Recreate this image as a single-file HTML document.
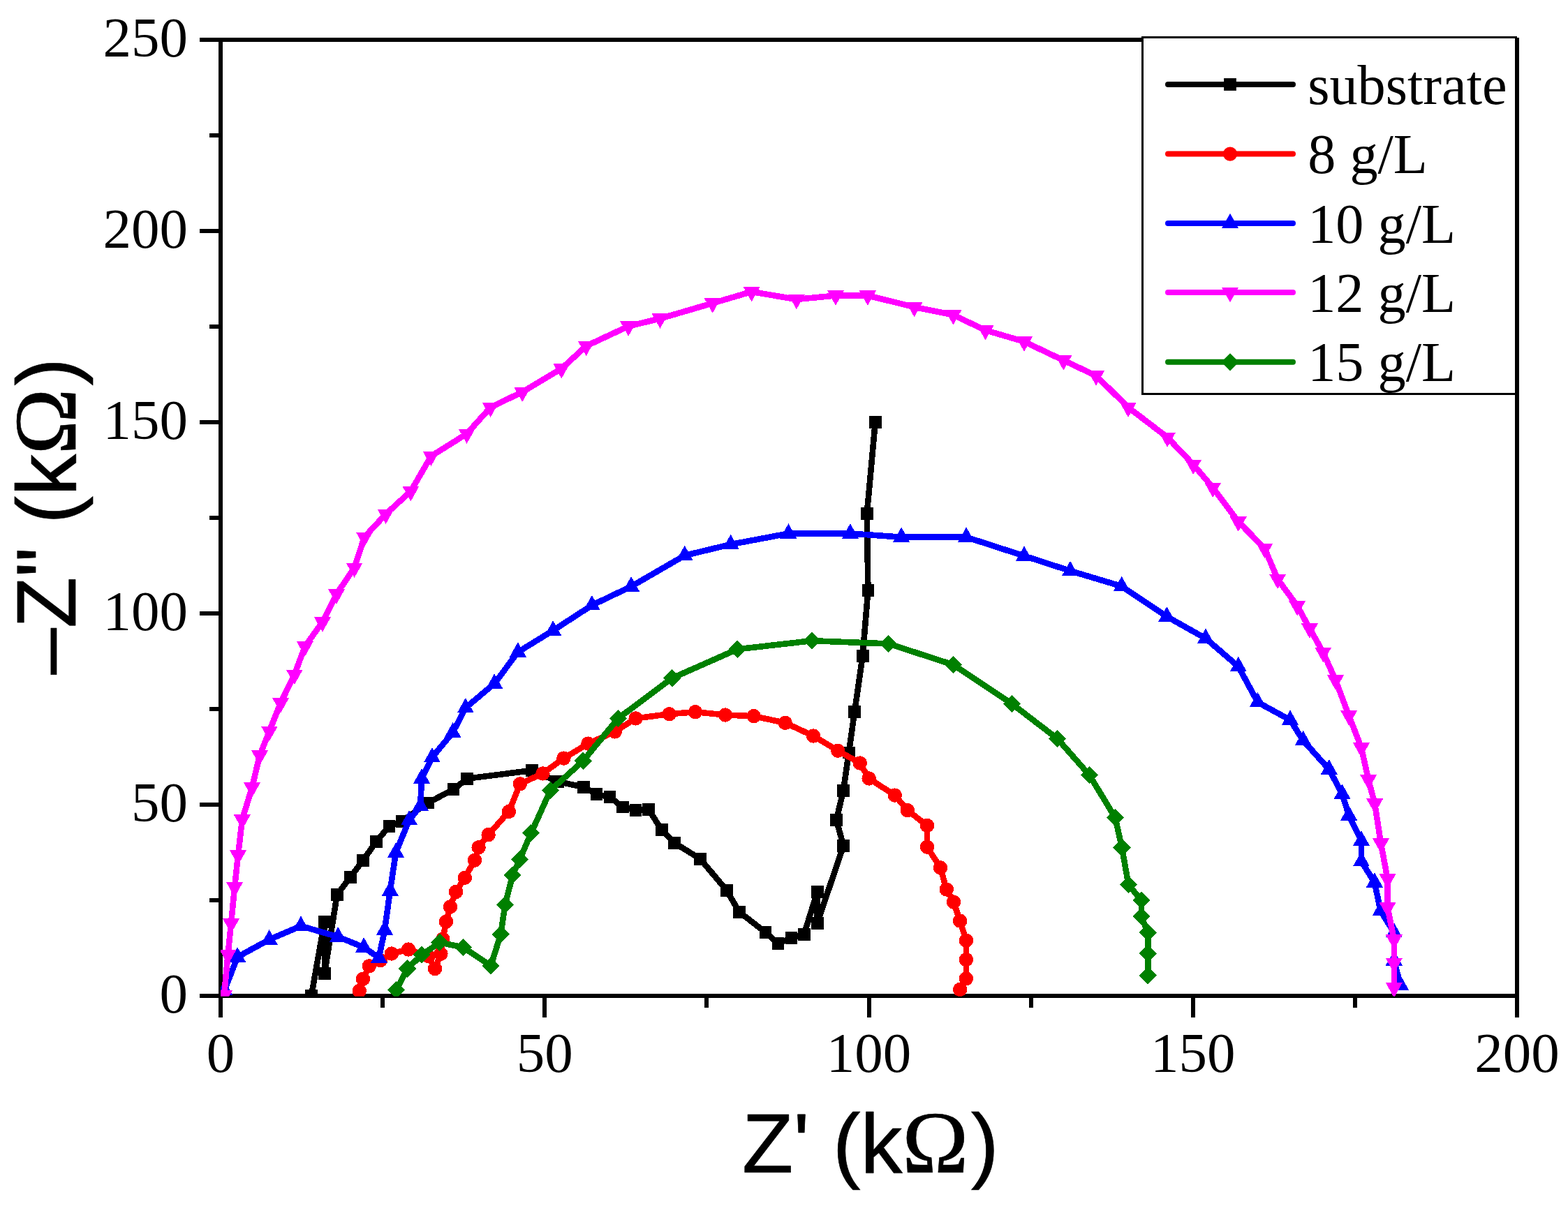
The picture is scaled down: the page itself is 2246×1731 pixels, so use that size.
<!DOCTYPE html>
<html lang="en">
<head>
<meta charset="utf-8">
<title>Nyquist plot</title>
<style>
html,body{margin:0;padding:0;background:#fff;}
body{width:2246px;height:1731px;overflow:hidden;}
svg{display:block;}
.tk{font-family:"Liberation Serif","Times New Roman",serif;font-size:81px;fill:#000;}
.ax{font-family:"Liberation Sans",Arial,sans-serif;font-size:120px;fill:#000;stroke:#000;stroke-width:0.7px;stroke-linejoin:round;}
.om{font-family:"Liberation Serif","Times New Roman",serif;font-size:128px;}
</style>
</head>
<body>

<svg width="2246" height="1731" viewBox="0 0 2246 1731">
<rect width="2246" height="1731" fill="#ffffff"/>
<defs><clipPath id="plotclip"><rect x="316.1" y="57.1" width="1856.9" height="1370.6"/></clipPath></defs>
<g stroke="#000" stroke-width="6" fill="none" shape-rendering="crispEdges">
<rect x="316.1" y="57.1" width="1856.9" height="1369.8"/>
<line x1="316.1" y1="1426.9" x2="316.1" y2="1457.9"/>
<line x1="548.2" y1="1426.9" x2="548.2" y2="1443.9"/>
<line x1="780.3" y1="1426.9" x2="780.3" y2="1457.9"/>
<line x1="1012.4" y1="1426.9" x2="1012.4" y2="1443.9"/>
<line x1="1244.6" y1="1426.9" x2="1244.6" y2="1457.9"/>
<line x1="1476.7" y1="1426.9" x2="1476.7" y2="1443.9"/>
<line x1="1708.8" y1="1426.9" x2="1708.8" y2="1457.9"/>
<line x1="1940.9" y1="1426.9" x2="1940.9" y2="1443.9"/>
<line x1="2173" y1="1426.9" x2="2173" y2="1457.9"/>
<line x1="316.1" y1="1426.9" x2="285.6" y2="1426.9"/>
<line x1="316.1" y1="1289.9" x2="299.6" y2="1289.9"/>
<line x1="316.1" y1="1152.9" x2="285.6" y2="1152.9"/>
<line x1="316.1" y1="1016" x2="299.6" y2="1016"/>
<line x1="316.1" y1="879" x2="285.6" y2="879"/>
<line x1="316.1" y1="742" x2="299.6" y2="742"/>
<line x1="316.1" y1="605" x2="285.6" y2="605"/>
<line x1="316.1" y1="468" x2="299.6" y2="468"/>
<line x1="316.1" y1="331.1" x2="285.6" y2="331.1"/>
<line x1="316.1" y1="194.1" x2="299.6" y2="194.1"/>
<line x1="316.1" y1="57.1" x2="285.6" y2="57.1"/>
</g>
<g class="tk" text-anchor="middle">
<text x="316.1" y="1536">0</text>
<text x="780.3" y="1536">50</text>
<text x="1244.6" y="1536">100</text>
<text x="1708.8" y="1536">150</text>
<text x="2173" y="1536">200</text>
</g>
<g class="tk" text-anchor="end">
<text x="269" y="1450.6">0</text>
<text x="269" y="1176.6">50</text>
<text x="269" y="902.7">100</text>
<text x="269" y="628.7">150</text>
<text x="269" y="354.8">200</text>
<text x="269" y="80.8">250</text>
</g>
<text class="ax" x="1063.1" y="1679.9">Z' (k<tspan class="om" dx="-0.3">Ω</tspan><tspan dx="3.2">)</tspan></text>
<text class="ax" transform="translate(108.1,0) rotate(-90)" x="-966.8" y="0">–Z" (k<tspan class="om" dx="-0.6">Ω</tspan><tspan dx="3.7">)</tspan></text>
<g clip-path="url(#plotclip)" shape-rendering="crispEdges">
<polyline fill="none" stroke="#000000" stroke-width="8.6" stroke-linejoin="round" points="446,1427 464.8,1320.8 464.9,1395 482.8,1282 501.8,1256.9 520,1232.9 539,1205.8 557.5,1184 575.8,1176.7 612.8,1150.5 649.5,1131.2 669.1,1115.7 762,1104 799.1,1120.1 836.2,1127.8 854.5,1138.1 873.4,1142.1 892,1156.5 910.5,1160.9 929,1159.9 947.6,1189 966.3,1208 1003,1230.7 1040.6,1275.6 1058.9,1306.7 1096.4,1336 1114.4,1352.2 1133.4,1343.9 1151.8,1338.8 1170.6,1278 1170.6,1322.7 1208.2,1212 1198,1174.8 1208.1,1132.8 1215.8,1078.4 1224.1,1019.9 1235.6,940.2 1243.4,846 1241.8,735.6 1253.8,604.8"/>
<rect x="437.1" y="1418.1" width="17.8" height="17.8" fill="#000000"/><rect x="455.9" y="1311.9" width="17.8" height="17.8" fill="#000000"/><rect x="456" y="1386.1" width="17.8" height="17.8" fill="#000000"/><rect x="473.9" y="1273.1" width="17.8" height="17.8" fill="#000000"/><rect x="492.9" y="1248" width="17.8" height="17.8" fill="#000000"/><rect x="511.1" y="1224" width="17.8" height="17.8" fill="#000000"/><rect x="530.1" y="1196.9" width="17.8" height="17.8" fill="#000000"/><rect x="548.6" y="1175.1" width="17.8" height="17.8" fill="#000000"/><rect x="566.9" y="1167.8" width="17.8" height="17.8" fill="#000000"/><rect x="603.9" y="1141.6" width="17.8" height="17.8" fill="#000000"/><rect x="640.6" y="1122.3" width="17.8" height="17.8" fill="#000000"/><rect x="660.2" y="1106.8" width="17.8" height="17.8" fill="#000000"/><rect x="753.1" y="1095.1" width="17.8" height="17.8" fill="#000000"/><rect x="790.2" y="1111.2" width="17.8" height="17.8" fill="#000000"/><rect x="827.3" y="1118.9" width="17.8" height="17.8" fill="#000000"/><rect x="845.6" y="1129.2" width="17.8" height="17.8" fill="#000000"/><rect x="864.5" y="1133.2" width="17.8" height="17.8" fill="#000000"/><rect x="883.1" y="1147.6" width="17.8" height="17.8" fill="#000000"/><rect x="901.6" y="1152" width="17.8" height="17.8" fill="#000000"/><rect x="920.1" y="1151" width="17.8" height="17.8" fill="#000000"/><rect x="938.7" y="1180.1" width="17.8" height="17.8" fill="#000000"/><rect x="957.4" y="1199.1" width="17.8" height="17.8" fill="#000000"/><rect x="994.1" y="1221.8" width="17.8" height="17.8" fill="#000000"/><rect x="1031.7" y="1266.7" width="17.8" height="17.8" fill="#000000"/><rect x="1050" y="1297.8" width="17.8" height="17.8" fill="#000000"/><rect x="1087.5" y="1327.1" width="17.8" height="17.8" fill="#000000"/><rect x="1105.5" y="1343.3" width="17.8" height="17.8" fill="#000000"/><rect x="1124.5" y="1335" width="17.8" height="17.8" fill="#000000"/><rect x="1142.9" y="1329.9" width="17.8" height="17.8" fill="#000000"/><rect x="1161.7" y="1269.1" width="17.8" height="17.8" fill="#000000"/><rect x="1161.7" y="1313.8" width="17.8" height="17.8" fill="#000000"/><rect x="1199.3" y="1203.1" width="17.8" height="17.8" fill="#000000"/><rect x="1189.1" y="1165.9" width="17.8" height="17.8" fill="#000000"/><rect x="1199.2" y="1123.9" width="17.8" height="17.8" fill="#000000"/><rect x="1206.9" y="1069.5" width="17.8" height="17.8" fill="#000000"/><rect x="1215.2" y="1011" width="17.8" height="17.8" fill="#000000"/><rect x="1226.7" y="931.3" width="17.8" height="17.8" fill="#000000"/><rect x="1234.5" y="837.1" width="17.8" height="17.8" fill="#000000"/><rect x="1232.9" y="726.7" width="17.8" height="17.8" fill="#000000"/><rect x="1244.9" y="595.9" width="17.8" height="17.8" fill="#000000"/>
<polyline fill="none" stroke="#ff0000" stroke-width="8.6" stroke-linejoin="round" points="514.8,1420 520,1402.8 528.8,1384.3 544.9,1376.1 560.9,1366.5 585,1360.5 613.6,1370.1 623,1388 631.4,1366.8 634.3,1345.6 639,1320.7 645,1299.3 653,1278 665.9,1257.7 680,1232.6 685.6,1214.2 699.6,1196.1 728.9,1163 744.9,1123.3 777.4,1108.4 807.4,1086.6 842.4,1065.6 880.8,1048.4 910.6,1029.4 958.7,1023.2 996,1020.2 1038.9,1024.5 1079.7,1026.2 1124.7,1035.8 1165,1054.5 1200.2,1075.7 1231.8,1093.5 1244.7,1115.5 1281.8,1139.6 1300,1161.2 1328,1183 1328,1213.6 1347,1243.3 1355.8,1274.5 1366,1292.6 1375.1,1319.6 1383.9,1347.6 1383.9,1375.1 1383.9,1402.3 1375.1,1417.9"/>
<circle cx="514.8" cy="1420" r="10.2" fill="#ff0000"/><circle cx="520" cy="1402.8" r="10.2" fill="#ff0000"/><circle cx="528.8" cy="1384.3" r="10.2" fill="#ff0000"/><circle cx="544.9" cy="1376.1" r="10.2" fill="#ff0000"/><circle cx="560.9" cy="1366.5" r="10.2" fill="#ff0000"/><circle cx="585" cy="1360.5" r="10.2" fill="#ff0000"/><circle cx="613.6" cy="1370.1" r="10.2" fill="#ff0000"/><circle cx="623" cy="1388" r="10.2" fill="#ff0000"/><circle cx="631.4" cy="1366.8" r="10.2" fill="#ff0000"/><circle cx="634.3" cy="1345.6" r="10.2" fill="#ff0000"/><circle cx="639" cy="1320.7" r="10.2" fill="#ff0000"/><circle cx="645" cy="1299.3" r="10.2" fill="#ff0000"/><circle cx="653" cy="1278" r="10.2" fill="#ff0000"/><circle cx="665.9" cy="1257.7" r="10.2" fill="#ff0000"/><circle cx="680" cy="1232.6" r="10.2" fill="#ff0000"/><circle cx="685.6" cy="1214.2" r="10.2" fill="#ff0000"/><circle cx="699.6" cy="1196.1" r="10.2" fill="#ff0000"/><circle cx="728.9" cy="1163" r="10.2" fill="#ff0000"/><circle cx="744.9" cy="1123.3" r="10.2" fill="#ff0000"/><circle cx="777.4" cy="1108.4" r="10.2" fill="#ff0000"/><circle cx="807.4" cy="1086.6" r="10.2" fill="#ff0000"/><circle cx="842.4" cy="1065.6" r="10.2" fill="#ff0000"/><circle cx="880.8" cy="1048.4" r="10.2" fill="#ff0000"/><circle cx="910.6" cy="1029.4" r="10.2" fill="#ff0000"/><circle cx="958.7" cy="1023.2" r="10.2" fill="#ff0000"/><circle cx="996" cy="1020.2" r="10.2" fill="#ff0000"/><circle cx="1038.9" cy="1024.5" r="10.2" fill="#ff0000"/><circle cx="1079.7" cy="1026.2" r="10.2" fill="#ff0000"/><circle cx="1124.7" cy="1035.8" r="10.2" fill="#ff0000"/><circle cx="1165" cy="1054.5" r="10.2" fill="#ff0000"/><circle cx="1200.2" cy="1075.7" r="10.2" fill="#ff0000"/><circle cx="1231.8" cy="1093.5" r="10.2" fill="#ff0000"/><circle cx="1244.7" cy="1115.5" r="10.2" fill="#ff0000"/><circle cx="1281.8" cy="1139.6" r="10.2" fill="#ff0000"/><circle cx="1300" cy="1161.2" r="10.2" fill="#ff0000"/><circle cx="1328" cy="1183" r="10.2" fill="#ff0000"/><circle cx="1328" cy="1213.6" r="10.2" fill="#ff0000"/><circle cx="1347" cy="1243.3" r="10.2" fill="#ff0000"/><circle cx="1355.8" cy="1274.5" r="10.2" fill="#ff0000"/><circle cx="1366" cy="1292.6" r="10.2" fill="#ff0000"/><circle cx="1375.1" cy="1319.6" r="10.2" fill="#ff0000"/><circle cx="1383.9" cy="1347.6" r="10.2" fill="#ff0000"/><circle cx="1383.9" cy="1375.1" r="10.2" fill="#ff0000"/><circle cx="1383.9" cy="1402.3" r="10.2" fill="#ff0000"/><circle cx="1375.1" cy="1417.9" r="10.2" fill="#ff0000"/>
<polyline fill="none" stroke="#0000ff" stroke-width="8.6" stroke-linejoin="round" points="321.5,1419 340.1,1371.4 385.7,1346.4 431,1326.9 484.2,1342.4 521.2,1357.5 542.8,1372.5 551,1332.6 558.8,1276.5 567,1221.6 586.1,1175.2 602.2,1155.1 604,1115.5 619,1085.3 648.5,1049.6 666.9,1014.3 708.2,979.5 741.9,934.4 792.2,903.5 847.9,867.3 904.1,840.4 980.7,796 1046.7,780.1 1129.4,764.5 1217.9,764.5 1291.2,769.7 1384.1,769.7 1467,796.6 1533,818 1606.7,840.1 1671.3,883.5 1727,914.8 1773.8,955.1 1801.6,1006.3 1848,1031.6 1866.7,1061.2 1903.8,1102.5 1922.6,1137.8 1932.1,1168.4 1950,1204.7 1950,1234.3 1968.9,1264.4 1977.5,1305.2 1996.8,1336.3 1996.8,1376.4 2006,1411.5"/>
<polygon points="321.5,1404.7 309.5,1426.1 333.5,1426.1" fill="#0000ff"/><polygon points="340.1,1357.1 328.1,1378.5 352.1,1378.5" fill="#0000ff"/><polygon points="385.7,1332.1 373.7,1353.5 397.7,1353.5" fill="#0000ff"/><polygon points="431,1312.6 419,1334 443,1334" fill="#0000ff"/><polygon points="484.2,1328.1 472.2,1349.5 496.2,1349.5" fill="#0000ff"/><polygon points="521.2,1343.2 509.2,1364.6 533.2,1364.6" fill="#0000ff"/><polygon points="542.8,1358.2 530.8,1379.6 554.8,1379.6" fill="#0000ff"/><polygon points="551,1318.3 539,1339.7 563,1339.7" fill="#0000ff"/><polygon points="558.8,1262.2 546.8,1283.6 570.8,1283.6" fill="#0000ff"/><polygon points="567,1207.3 555,1228.7 579,1228.7" fill="#0000ff"/><polygon points="586.1,1160.9 574.1,1182.3 598.1,1182.3" fill="#0000ff"/><polygon points="602.2,1140.8 590.2,1162.2 614.2,1162.2" fill="#0000ff"/><polygon points="604,1101.2 592,1122.6 616,1122.6" fill="#0000ff"/><polygon points="619,1071 607,1092.4 631,1092.4" fill="#0000ff"/><polygon points="648.5,1035.3 636.5,1056.7 660.5,1056.7" fill="#0000ff"/><polygon points="666.9,1000 654.9,1021.4 678.9,1021.4" fill="#0000ff"/><polygon points="708.2,965.2 696.2,986.6 720.2,986.6" fill="#0000ff"/><polygon points="741.9,920.1 729.9,941.5 753.9,941.5" fill="#0000ff"/><polygon points="792.2,889.2 780.2,910.6 804.2,910.6" fill="#0000ff"/><polygon points="847.9,853 835.9,874.4 859.9,874.4" fill="#0000ff"/><polygon points="904.1,826.1 892.1,847.5 916.1,847.5" fill="#0000ff"/><polygon points="980.7,781.7 968.7,803.1 992.7,803.1" fill="#0000ff"/><polygon points="1046.7,765.8 1034.7,787.2 1058.7,787.2" fill="#0000ff"/><polygon points="1129.4,750.2 1117.4,771.6 1141.4,771.6" fill="#0000ff"/><polygon points="1217.9,750.2 1205.9,771.6 1229.9,771.6" fill="#0000ff"/><polygon points="1291.2,755.4 1279.2,776.8 1303.2,776.8" fill="#0000ff"/><polygon points="1384.1,755.4 1372.1,776.8 1396.1,776.8" fill="#0000ff"/><polygon points="1467,782.3 1455,803.7 1479,803.7" fill="#0000ff"/><polygon points="1533,803.7 1521,825.1 1545,825.1" fill="#0000ff"/><polygon points="1606.7,825.8 1594.7,847.2 1618.7,847.2" fill="#0000ff"/><polygon points="1671.3,869.2 1659.3,890.6 1683.3,890.6" fill="#0000ff"/><polygon points="1727,900.5 1715,921.9 1739,921.9" fill="#0000ff"/><polygon points="1773.8,940.8 1761.8,962.2 1785.8,962.2" fill="#0000ff"/><polygon points="1801.6,992 1789.6,1013.4 1813.6,1013.4" fill="#0000ff"/><polygon points="1848,1017.3 1836,1038.7 1860,1038.7" fill="#0000ff"/><polygon points="1866.7,1046.9 1854.7,1068.3 1878.7,1068.3" fill="#0000ff"/><polygon points="1903.8,1088.2 1891.8,1109.6 1915.8,1109.6" fill="#0000ff"/><polygon points="1922.6,1123.5 1910.6,1144.9 1934.6,1144.9" fill="#0000ff"/><polygon points="1932.1,1154.1 1920.1,1175.5 1944.1,1175.5" fill="#0000ff"/><polygon points="1950,1190.4 1938,1211.8 1962,1211.8" fill="#0000ff"/><polygon points="1950,1220 1938,1241.4 1962,1241.4" fill="#0000ff"/><polygon points="1968.9,1250.1 1956.9,1271.5 1980.9,1271.5" fill="#0000ff"/><polygon points="1977.5,1290.9 1965.5,1312.3 1989.5,1312.3" fill="#0000ff"/><polygon points="1996.8,1322 1984.8,1343.4 2008.8,1343.4" fill="#0000ff"/><polygon points="1996.8,1362.1 1984.8,1383.5 2008.8,1383.5" fill="#0000ff"/><polygon points="2006,1397.2 1994,1418.6 2018,1418.6" fill="#0000ff"/>
<polyline fill="none" stroke="#ff00ff" stroke-width="8.6" stroke-linejoin="round" points="321,1426.3 326.5,1368.2 331,1323.4 336.1,1271.2 341,1225.4 346.9,1174.5 361,1128.5 372,1082.4 385.9,1047.6 402,1007.3 421.8,966.6 436.8,926.3 461.9,891.4 482,851.3 507.6,813.6 521.9,769.7 552.6,736.7 588.4,704 617.5,653.7 668.6,621.6 702.6,583.7 748.2,561.7 804.3,528.2 839.7,495.8 900.2,467.5 945.5,456.5 1020.7,434.5 1076.6,418 1140.9,429 1197,423.5 1242.9,423.5 1309.6,440 1365.4,451.3 1411.5,473.2 1467,489.5 1523.4,516.4 1570.1,538.4 1616,583.7 1672.1,626.6 1709.2,665.6 1737.2,698.6 1773.7,747.5 1811.4,785.7 1830.1,829.9 1858.1,868.1 1875.9,900.5 1895.2,934.8 1913,974.5 1932.1,1025.3 1950,1071.5 1960.1,1117.3 1969.2,1151.5 1978,1208.4 1987.5,1259.4 1987.5,1300.2 1996.8,1346.5 1996.8,1380.2 1996.8,1415.3"/>
<polygon points="321,1440.6 309,1419.2 333,1419.2" fill="#ff00ff"/><polygon points="326.5,1382.5 314.5,1361.1 338.5,1361.1" fill="#ff00ff"/><polygon points="331,1337.7 319,1316.3 343,1316.3" fill="#ff00ff"/><polygon points="336.1,1285.5 324.1,1264.1 348.1,1264.1" fill="#ff00ff"/><polygon points="341,1239.7 329,1218.3 353,1218.3" fill="#ff00ff"/><polygon points="346.9,1188.8 334.9,1167.4 358.9,1167.4" fill="#ff00ff"/><polygon points="361,1142.8 349,1121.4 373,1121.4" fill="#ff00ff"/><polygon points="372,1096.7 360,1075.3 384,1075.3" fill="#ff00ff"/><polygon points="385.9,1061.9 373.9,1040.5 397.9,1040.5" fill="#ff00ff"/><polygon points="402,1021.6 390,1000.2 414,1000.2" fill="#ff00ff"/><polygon points="421.8,980.9 409.8,959.5 433.8,959.5" fill="#ff00ff"/><polygon points="436.8,940.6 424.8,919.2 448.8,919.2" fill="#ff00ff"/><polygon points="461.9,905.7 449.9,884.3 473.9,884.3" fill="#ff00ff"/><polygon points="482,865.6 470,844.2 494,844.2" fill="#ff00ff"/><polygon points="507.6,827.9 495.6,806.5 519.6,806.5" fill="#ff00ff"/><polygon points="521.9,784 509.9,762.6 533.9,762.6" fill="#ff00ff"/><polygon points="552.6,751 540.6,729.6 564.6,729.6" fill="#ff00ff"/><polygon points="588.4,718.3 576.4,696.9 600.4,696.9" fill="#ff00ff"/><polygon points="617.5,668 605.5,646.6 629.5,646.6" fill="#ff00ff"/><polygon points="668.6,635.9 656.6,614.5 680.6,614.5" fill="#ff00ff"/><polygon points="702.6,598 690.6,576.6 714.6,576.6" fill="#ff00ff"/><polygon points="748.2,576 736.2,554.6 760.2,554.6" fill="#ff00ff"/><polygon points="804.3,542.5 792.3,521.1 816.3,521.1" fill="#ff00ff"/><polygon points="839.7,510.1 827.7,488.7 851.7,488.7" fill="#ff00ff"/><polygon points="900.2,481.8 888.2,460.4 912.2,460.4" fill="#ff00ff"/><polygon points="945.5,470.8 933.5,449.4 957.5,449.4" fill="#ff00ff"/><polygon points="1020.7,448.8 1008.7,427.4 1032.7,427.4" fill="#ff00ff"/><polygon points="1076.6,432.3 1064.6,410.9 1088.6,410.9" fill="#ff00ff"/><polygon points="1140.9,443.3 1128.9,421.9 1152.9,421.9" fill="#ff00ff"/><polygon points="1197,437.8 1185,416.4 1209,416.4" fill="#ff00ff"/><polygon points="1242.9,437.8 1230.9,416.4 1254.9,416.4" fill="#ff00ff"/><polygon points="1309.6,454.3 1297.6,432.9 1321.6,432.9" fill="#ff00ff"/><polygon points="1365.4,465.6 1353.4,444.2 1377.4,444.2" fill="#ff00ff"/><polygon points="1411.5,487.5 1399.5,466.1 1423.5,466.1" fill="#ff00ff"/><polygon points="1467,503.8 1455,482.4 1479,482.4" fill="#ff00ff"/><polygon points="1523.4,530.7 1511.4,509.3 1535.4,509.3" fill="#ff00ff"/><polygon points="1570.1,552.7 1558.1,531.3 1582.1,531.3" fill="#ff00ff"/><polygon points="1616,598 1604,576.6 1628,576.6" fill="#ff00ff"/><polygon points="1672.1,640.9 1660.1,619.5 1684.1,619.5" fill="#ff00ff"/><polygon points="1709.2,679.9 1697.2,658.5 1721.2,658.5" fill="#ff00ff"/><polygon points="1737.2,712.9 1725.2,691.5 1749.2,691.5" fill="#ff00ff"/><polygon points="1773.7,761.8 1761.7,740.4 1785.7,740.4" fill="#ff00ff"/><polygon points="1811.4,800 1799.4,778.6 1823.4,778.6" fill="#ff00ff"/><polygon points="1830.1,844.2 1818.1,822.8 1842.1,822.8" fill="#ff00ff"/><polygon points="1858.1,882.4 1846.1,861 1870.1,861" fill="#ff00ff"/><polygon points="1875.9,914.8 1863.9,893.4 1887.9,893.4" fill="#ff00ff"/><polygon points="1895.2,949.1 1883.2,927.7 1907.2,927.7" fill="#ff00ff"/><polygon points="1913,988.8 1901,967.4 1925,967.4" fill="#ff00ff"/><polygon points="1932.1,1039.6 1920.1,1018.2 1944.1,1018.2" fill="#ff00ff"/><polygon points="1950,1085.8 1938,1064.4 1962,1064.4" fill="#ff00ff"/><polygon points="1960.1,1131.6 1948.1,1110.2 1972.1,1110.2" fill="#ff00ff"/><polygon points="1969.2,1165.8 1957.2,1144.4 1981.2,1144.4" fill="#ff00ff"/><polygon points="1978,1222.7 1966,1201.3 1990,1201.3" fill="#ff00ff"/><polygon points="1987.5,1273.7 1975.5,1252.3 1999.5,1252.3" fill="#ff00ff"/><polygon points="1987.5,1314.5 1975.5,1293.1 1999.5,1293.1" fill="#ff00ff"/><polygon points="1996.8,1360.8 1984.8,1339.4 2008.8,1339.4" fill="#ff00ff"/><polygon points="1996.8,1394.5 1984.8,1373.1 2008.8,1373.1" fill="#ff00ff"/><polygon points="1996.8,1429.6 1984.8,1408.2 2008.8,1408.2" fill="#ff00ff"/>
<polyline fill="none" stroke="#008000" stroke-width="8.6" stroke-linejoin="round" points="567.5,1418.8 583.5,1388 604.1,1368.3 629.9,1350.5 663.4,1357.5 703.1,1384 717.2,1338.8 723.6,1296.3 734.2,1254.2 744.5,1231.3 760.8,1193.6 788.5,1132.4 835.3,1090.3 885.4,1029.4 962.8,971.7 1056.3,930.3 1162.8,918.2 1272.7,922.4 1365.5,952.6 1449.3,1008.4 1514.5,1058.4 1560.6,1110.8 1597.5,1171.9 1607,1214.5 1616.4,1267.5 1634.8,1290.2 1634.8,1313 1644.3,1336.2 1644.3,1366.3 1644.3,1397.8"/>
<polygon points="567.5,1406.2 580.1,1418.8 567.5,1431.4 554.9,1418.8" fill="#008000"/><polygon points="583.5,1375.4 596.1,1388 583.5,1400.6 570.9,1388" fill="#008000"/><polygon points="604.1,1355.7 616.7,1368.3 604.1,1380.9 591.5,1368.3" fill="#008000"/><polygon points="629.9,1337.9 642.5,1350.5 629.9,1363.1 617.3,1350.5" fill="#008000"/><polygon points="663.4,1344.9 676,1357.5 663.4,1370.1 650.8,1357.5" fill="#008000"/><polygon points="703.1,1371.4 715.7,1384 703.1,1396.6 690.5,1384" fill="#008000"/><polygon points="717.2,1326.2 729.8,1338.8 717.2,1351.4 704.6,1338.8" fill="#008000"/><polygon points="723.6,1283.7 736.2,1296.3 723.6,1308.9 711,1296.3" fill="#008000"/><polygon points="734.2,1241.6 746.8,1254.2 734.2,1266.8 721.6,1254.2" fill="#008000"/><polygon points="744.5,1218.7 757.1,1231.3 744.5,1243.9 731.9,1231.3" fill="#008000"/><polygon points="760.8,1181 773.4,1193.6 760.8,1206.2 748.2,1193.6" fill="#008000"/><polygon points="788.5,1119.8 801.1,1132.4 788.5,1145 775.9,1132.4" fill="#008000"/><polygon points="835.3,1077.7 847.9,1090.3 835.3,1102.9 822.7,1090.3" fill="#008000"/><polygon points="885.4,1016.8 898,1029.4 885.4,1042 872.8,1029.4" fill="#008000"/><polygon points="962.8,959.1 975.4,971.7 962.8,984.3 950.2,971.7" fill="#008000"/><polygon points="1056.3,917.7 1068.9,930.3 1056.3,942.9 1043.7,930.3" fill="#008000"/><polygon points="1162.8,905.6 1175.4,918.2 1162.8,930.8 1150.2,918.2" fill="#008000"/><polygon points="1272.7,909.8 1285.3,922.4 1272.7,935 1260.1,922.4" fill="#008000"/><polygon points="1365.5,940 1378.1,952.6 1365.5,965.2 1352.9,952.6" fill="#008000"/><polygon points="1449.3,995.8 1461.9,1008.4 1449.3,1021 1436.7,1008.4" fill="#008000"/><polygon points="1514.5,1045.8 1527.1,1058.4 1514.5,1071 1501.9,1058.4" fill="#008000"/><polygon points="1560.6,1098.2 1573.2,1110.8 1560.6,1123.4 1548,1110.8" fill="#008000"/><polygon points="1597.5,1159.3 1610.1,1171.9 1597.5,1184.5 1584.9,1171.9" fill="#008000"/><polygon points="1607,1201.9 1619.6,1214.5 1607,1227.1 1594.4,1214.5" fill="#008000"/><polygon points="1616.4,1254.9 1629,1267.5 1616.4,1280.1 1603.8,1267.5" fill="#008000"/><polygon points="1634.8,1277.6 1647.4,1290.2 1634.8,1302.8 1622.2,1290.2" fill="#008000"/><polygon points="1634.8,1300.4 1647.4,1313 1634.8,1325.6 1622.2,1313" fill="#008000"/><polygon points="1644.3,1323.6 1656.9,1336.2 1644.3,1348.8 1631.7,1336.2" fill="#008000"/><polygon points="1644.3,1353.7 1656.9,1366.3 1644.3,1378.9 1631.7,1366.3" fill="#008000"/><polygon points="1644.3,1385.2 1656.9,1397.8 1644.3,1410.4 1631.7,1397.8" fill="#008000"/>
</g>
<rect x="1635" y="52" width="538" height="514" fill="#000" shape-rendering="crispEdges"/>
<rect x="1638" y="55" width="532" height="508" fill="#fff" shape-rendering="crispEdges"/>
<line x1="2173" y1="54.1" x2="2173" y2="569" stroke="#000" stroke-width="6" shape-rendering="crispEdges"/>
<line x1="1673" y1="121" x2="1852" y2="121" stroke="#000000" stroke-width="8" stroke-linecap="round"/>
<rect x="1753.1" y="112.1" width="17.8" height="17.8" fill="#000000"/>
<text class="tk" style="font-size:80.3px" x="1873.2" y="148.9">substrate</text>
<line x1="1673" y1="220.6" x2="1852" y2="220.6" stroke="#ff0000" stroke-width="8" stroke-linecap="round"/>
<circle cx="1762" cy="220.6" r="10.2" fill="#ff0000"/>
<text class="tk" style="font-size:80.3px" x="1873.2" y="248.3">8 g/L</text>
<line x1="1673" y1="320" x2="1852" y2="320" stroke="#0000ff" stroke-width="8" stroke-linecap="round"/>
<polygon points="1762,305.7 1750,327.1 1774,327.1" fill="#0000ff"/>
<text class="tk" style="font-size:80.3px" x="1873.2" y="347.5">10 g/L</text>
<line x1="1673" y1="419" x2="1852" y2="419" stroke="#ff00ff" stroke-width="8" stroke-linecap="round"/>
<polygon points="1762,433.3 1750,411.9 1774,411.9" fill="#ff00ff"/>
<text class="tk" style="font-size:80.3px" x="1873.2" y="446.6">12 g/L</text>
<line x1="1673" y1="518.8" x2="1852" y2="518.8" stroke="#008000" stroke-width="8" stroke-linecap="round"/>
<polygon points="1762,506.2 1774.6,518.8 1762,531.4 1749.4,518.8" fill="#008000"/>
<text class="tk" style="font-size:80.3px" x="1873.2" y="545.6">15 g/L</text>
</svg>
</body>
</html>
